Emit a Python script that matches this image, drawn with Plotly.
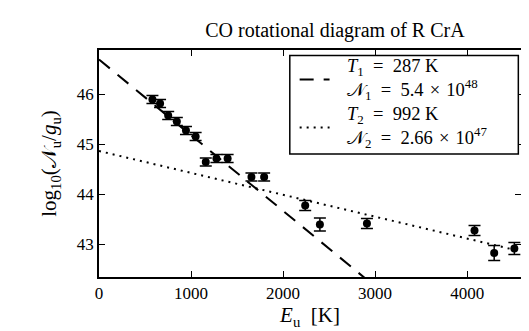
import plotly.graph_objects as go

# upper level energies [K] and log10(N_u/g_u) of the CO lines
e_up = [580.5, 663.4, 751.7, 845.6, 945.0, 1049.9, 1160.2, 1275.9, 1397.4,
        1656.5, 1794.2, 2240.2, 2400.0, 2911.2, 4080.0, 4293.7, 4512.7]
log_n = [45.89, 45.81, 45.57, 45.45, 45.27, 45.15, 44.64, 44.71, 44.71,
         44.34, 44.34, 43.77, 43.39, 43.41, 43.27, 42.82, 42.91]
log_err = [0.08, 0.08, 0.08, 0.08, 0.08, 0.08, 0.08, 0.08, 0.08,
           0.08, 0.08, 0.10, 0.13, 0.10, 0.10, 0.15, 0.12]

# two temperature components: T [K] and intercept at E_u = 0
temps = [287, 992]
intercepts = [46.69, 44.86]
col_dens = ["5.4", "2.66"]
col_exp = ["48", "47"]
fit_x = [0, 4600]

LOG10_E = 0.4342945
FONT = "Liberation Serif, Times New Roman, serif"
EQ = "\u2002=\u2002"   # math-like spacing
TIMES = "\u2004×\u2004"
dashes = ["14px,10px", "2px,5px"]

fig = go.Figure()

for T, b, d in zip(temps, intercepts, dashes):
    fig.add_trace(go.Scatter(
        x=fit_x, y=[b - LOG10_E / T * x for x in fit_x],
        mode="lines", showlegend=False,
        line=dict(color="black", width=2, dash=d),
    ))

fig.add_trace(go.Scatter(
    x=e_up, y=log_n, mode="markers", showlegend=False,
    marker=dict(color="black", size=8),
    error_y=dict(type="data", array=log_err, color="black", thickness=1.5, width=6),
))

# legend drawn by hand: box, line samples and one text block
fig.add_shape(type="rect", xref="x", yref="y", x0=2073, x1=4556, y0=44.80, y1=46.77,
              line=dict(color="black", width=1.5), fillcolor="white", layer="above")
sample_y = [46.29, 45.33]
legend_lines = []
for i, (T, n, e, d) in enumerate(zip(temps, col_dens, col_exp, dashes)):
    fig.add_shape(type="line", xref="x", yref="y", x0=2180, x1=2505,
                  y0=sample_y[i], y1=sample_y[i], layer="above",
                  line=dict(color="black", width=2, dash=d))
    k = i + 1
    legend_lines.append(f"<i>T</i><sub>{k}</sub>{EQ}{T} K")
    legend_lines.append(f"𝒩<sub>{k}</sub>{EQ}{n}{TIMES}10<sup>{e}</sup>")

fig.add_annotation(x=2670, y=sum(sample_y) / 2, xref="x", yref="y",
                   text="<br>".join(legend_lines), showarrow=False,
                   xanchor="left", yanchor="middle", align="left",
                   font=dict(family=FONT, size=18.5, color="black"))

axis_common = dict(
    showgrid=False, zeroline=False, showline=True, linecolor="black", linewidth=1.5,
    mirror="ticks", ticks="inside", ticklen=6, tickwidth=1.2, tickcolor="black",
    tickfont=dict(family=FONT, size=17, color="black"),
)

fig.update_xaxes(range=[0, 4585], tickvals=[0, 1000, 2000, 3000, 4000],
                 title=dict(text="<i>E</i><sub>u</sub>\u2002[K]", standoff=2,
                            font=dict(family=FONT, size=21, color="black")),
                 **axis_common)
fig.update_yaxes(range=[42.34, 46.88], tickvals=[43, 44, 45, 46],
                 title=dict(text="log<sub>10</sub>(𝒩<sub>u</sub>/<i>g</i><sub>u</sub>)", standoff=14,
                            font=dict(family=FONT, size=21, color="black")),
                 **axis_common)

fig.update_layout(
    width=529, height=331,
    margin=dict(l=91, r=16, t=42, b=62),
    paper_bgcolor="white", plot_bgcolor="white",
    title=dict(text="CO rotational diagram of R CrA", x=0.618, xanchor="center",
               y=0.934, yref="container", yanchor="middle",
               font=dict(family=FONT, size=20, color="black")),
    showlegend=False,
)

fig.write_html("out.html")
